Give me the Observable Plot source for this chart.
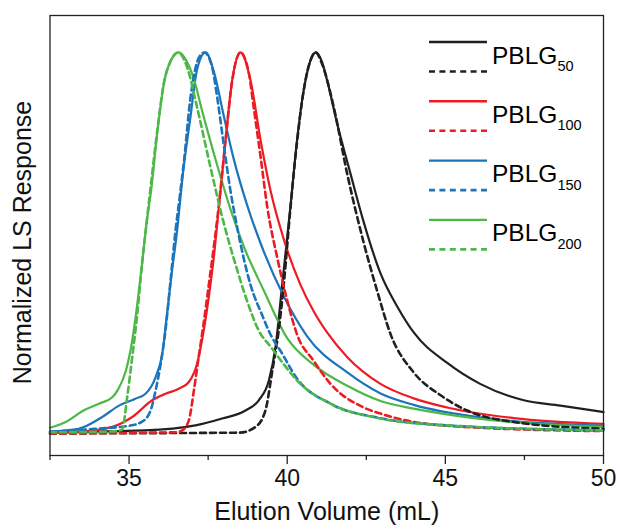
<!DOCTYPE html>
<html>
<head>
<meta charset="utf-8">
<script src="https://cdn.jsdelivr.net/npm/d3@7"></script>
<script src="https://cdn.jsdelivr.net/npm/@observablehq/plot@0.6"></script>
<style>
  html, body { margin: 0; padding: 0; background: #fff; }
  #chart { width: 620px; height: 529px; }
  svg { font-family: "Liberation Sans", Arial, sans-serif; }
</style>
</head>
<body>
<div id="chart"></div>
<script>
// ---- Data (elution volume mL, normalized LS response) ----
const seriesNames = ["PBLG50", "PBLG100", "PBLG150", "PBLG200"];
const seriesSubs = ["50", "100", "150", "200"];
const seriesColors = ["#231f20", "#ed1c24", "#1b75bc", "#4db848"];

const pblg50Solid = [[32.5,0.004],[35.5,0.008],[37.1,0.021],[37.94,0.039],[38.68,0.06],[39.1,0.087],[39.42,0.139],[39.63,0.227],[39.84,0.39],[40.1,0.594],[40.31,0.769],[40.52,0.9],[40.7,0.97],[40.9,1.0],[41.1,0.975],[41.26,0.927],[41.58,0.813],[42.0,0.682],[42.4,0.56],[42.95,0.42],[43.5,0.33],[44.0,0.265],[45.06,0.185],[46.1,0.13],[47.48,0.087],[48.64,0.073],[50,0.056]];
const pblg50Dashed = [[32.5,0.0],[38.5,0.002],[39.0,0.017],[39.31,0.06],[39.53,0.165],[39.73,0.27],[39.89,0.39],[40.1,0.59],[40.31,0.765],[40.52,0.9],[40.7,0.97],[40.9,1.0],[41.1,0.97],[41.47,0.857],[41.9,0.68],[42.42,0.5],[42.84,0.375],[43.27,0.26],[44.0,0.16],[44.85,0.1],[45.69,0.06],[47.16,0.03],[50,0.012]];
const pblg100Solid = [[32.5,0.002],[33.4,0.004],[34.47,0.017],[35.1,0.043],[35.73,0.087],[36.15,0.104],[36.57,0.117],[36.89,0.135],[37.15,0.183],[37.36,0.27],[37.52,0.358],[37.68,0.463],[37.84,0.594],[38.05,0.769],[38.26,0.927],[38.52,1.0],[38.84,0.927],[39.16,0.769],[39.47,0.638],[39.89,0.51],[40.42,0.39],[40.84,0.32],[41.26,0.265],[41.9,0.2],[42.95,0.13],[44.0,0.092],[45.06,0.068],[47.16,0.04],[50,0.025]];
const pblg100Dashed = [[32.5,0.0],[36.5,0.003],[36.68,0.008],[36.89,0.034],[37.05,0.113],[37.2,0.2],[37.36,0.29],[37.52,0.39],[37.68,0.49],[37.84,0.6],[38.05,0.77],[38.26,0.925],[38.52,1.0],[38.79,0.944],[38.94,0.856],[39.16,0.725],[39.37,0.594],[39.68,0.463],[40.0,0.349],[40.31,0.26],[40.84,0.19],[41.37,0.13],[42.42,0.068],[42.95,0.052],[44.0,0.03],[46.1,0.015],[50,0.006]];
const pblg150Solid = [[32.5,0.005],[33.4,0.012],[34.15,0.043],[34.68,0.073],[35.2,0.091],[35.52,0.104],[35.84,0.148],[36.05,0.209],[36.2,0.314],[36.36,0.428],[36.52,0.533],[36.7,0.68],[36.94,0.83],[37.15,0.955],[37.42,1.0],[37.68,0.95],[37.99,0.835],[38.31,0.72],[38.73,0.6],[39.2,0.49],[39.89,0.36],[40.63,0.255],[41.9,0.16],[42.95,0.105],[44.0,0.075],[46.1,0.042],[50,0.02]];
const pblg150Dashed = [[32.5,0.004],[33.9,0.012],[35.0,0.02],[35.4,0.03],[35.68,0.06],[35.84,0.113],[36.0,0.183],[36.15,0.27],[36.31,0.4],[36.47,0.533],[36.6,0.62],[36.73,0.71],[36.94,0.88],[37.2,0.985],[37.38,1.0],[37.63,0.96],[37.79,0.88],[37.99,0.76],[38.2,0.64],[38.42,0.54],[38.84,0.39],[39.21,0.31],[39.5,0.255],[39.8,0.215],[40.3,0.145],[41.37,0.078],[42.95,0.04],[45.06,0.021],[50,0.008]];
const pblg200Solid = [[32.5,0.015],[33.0,0.03],[33.6,0.062],[34.05,0.078],[34.47,0.095],[34.65,0.115],[34.9,0.165],[35.1,0.244],[35.26,0.34],[35.41,0.445],[35.55,0.55],[35.7,0.64],[35.9,0.795],[36.1,0.918],[36.3,0.975],[36.57,1.0],[36.8,0.98],[37.05,0.93],[37.3,0.85],[37.8,0.7],[38.2,0.59],[38.63,0.49],[39.26,0.375],[40.0,0.25],[40.84,0.18],[41.9,0.125],[42.95,0.085],[44.0,0.065],[46.1,0.038],[50,0.017]];
const pblg200Dashed = [[32.5,0.003],[34.0,0.004],[34.6,0.006],[34.78,0.01],[34.94,0.095],[35.1,0.2],[35.26,0.314],[35.41,0.445],[35.55,0.55],[35.7,0.66],[35.9,0.8],[36.1,0.92],[36.3,0.975],[36.55,1.0],[36.84,0.96],[37.15,0.856],[37.57,0.7],[38.0,0.55],[38.36,0.445],[38.68,0.36],[39.1,0.27],[39.5,0.225],[39.95,0.175],[40.3,0.14],[41.37,0.078],[42.95,0.039],[45.06,0.021],[50,0.008]];

const xMajorTicks = [35, 40, 45, 50];
const xMinorTicks = [32.5, 37.5, 42.5, 47.5];
const xLabel = "Elution Volume (mL)";
const yLabel = "Normalized LS Response";

const solids = [pblg50Solid, pblg100Solid, pblg150Solid, pblg200Solid];
const dashes = [pblg50Dashed, pblg100Dashed, pblg150Dashed, pblg200Dashed];

const toRows = (arr, name, kind) => arr.map(([v, r]) => ({v, r, name, kind}));
const solidRows = solids.flatMap((a, i) => toRows(a, seriesNames[i], "solid"));
const dashedRows = dashes.flatMap((a, i) => toRows(a, seriesNames[i], "dashed"));

const FONT = "Liberation Sans, Arial, sans-serif";

const plot = Plot.plot({
  width: 620,
  height: 529,
  marginLeft: 49.5,
  marginRight: 17,
  marginTop: 15,
  marginBottom: 74,
  style: {fontFamily: FONT, color: "#222", background: "#fff"},
  x: {domain: [32.5, 50], axis: null},
  y: {domain: [-0.058, 1.097], axis: null},
  color: {domain: seriesNames, range: seriesColors},
  marks: [
    Plot.lineY(solidRows, {x: "v", y: "r", z: "name", stroke: "name", strokeWidth: 2.2, curve: "monotone-x"}),
    Plot.lineY(dashedRows, {x: "v", y: "r", z: "name", stroke: "name", strokeWidth: 2.6, strokeDasharray: "6,4", curve: "monotone-x"}),
    Plot.frame({stroke: "#222", strokeWidth: 1.3}),
    Plot.axisX(xMajorTicks, {tickSize: 9, tickPadding: 5, fontSize: 23, label: null, stroke: "#222", strokeWidth: 1.3, fill: "#111"}),
    Plot.axisX(xMinorTicks, {tickSize: 5, tickFormat: () => "", label: null, stroke: "#222", strokeWidth: 1.3}),
    Plot.text([xLabel], {frameAnchor: "bottom", text: d => d, dy: 64, fontSize: 25, fill: "#111"}),
    Plot.text([yLabel], {frameAnchor: "left", text: d => d, textAnchor: "middle", dx: -27, dy: 7, rotate: -90, fontSize: 25, fill: "#111"})
  ]
});

document.getElementById("chart").appendChild(plot);

// ---- Legend (inside top-right of the frame) ----
const svg = d3.select(plot);
const lg = svg.append("g").attr("font-family", FONT).attr("text-anchor", "start");
const lx0 = 429, lx1 = 487, ly0 = 42, step = 59.3;
seriesNames.forEach((name, i) => {
  const y = ly0 + i * step;
  lg.append("line").attr("x1", lx0).attr("x2", lx1).attr("y1", y).attr("y2", y)
    .attr("stroke", seriesColors[i]).attr("stroke-width", 2.4);
  lg.append("line").attr("x1", lx0).attr("x2", lx1).attr("y1", y + 29.5).attr("y2", y + 29.5)
    .attr("stroke", seriesColors[i]).attr("stroke-width", 2.6).attr("stroke-dasharray", "6,4.4");
  const t = lg.append("text").attr("x", 492).attr("y", y + 21.5).attr("font-size", 24.5)
    .attr("fill", "#000").attr("text-anchor", "start");
  t.append("tspan").text("PBLG");
  t.append("tspan").attr("font-size", 14.5).attr("dy", 7.5).text(seriesSubs[i]);
});
</script>
</body>
</html>
